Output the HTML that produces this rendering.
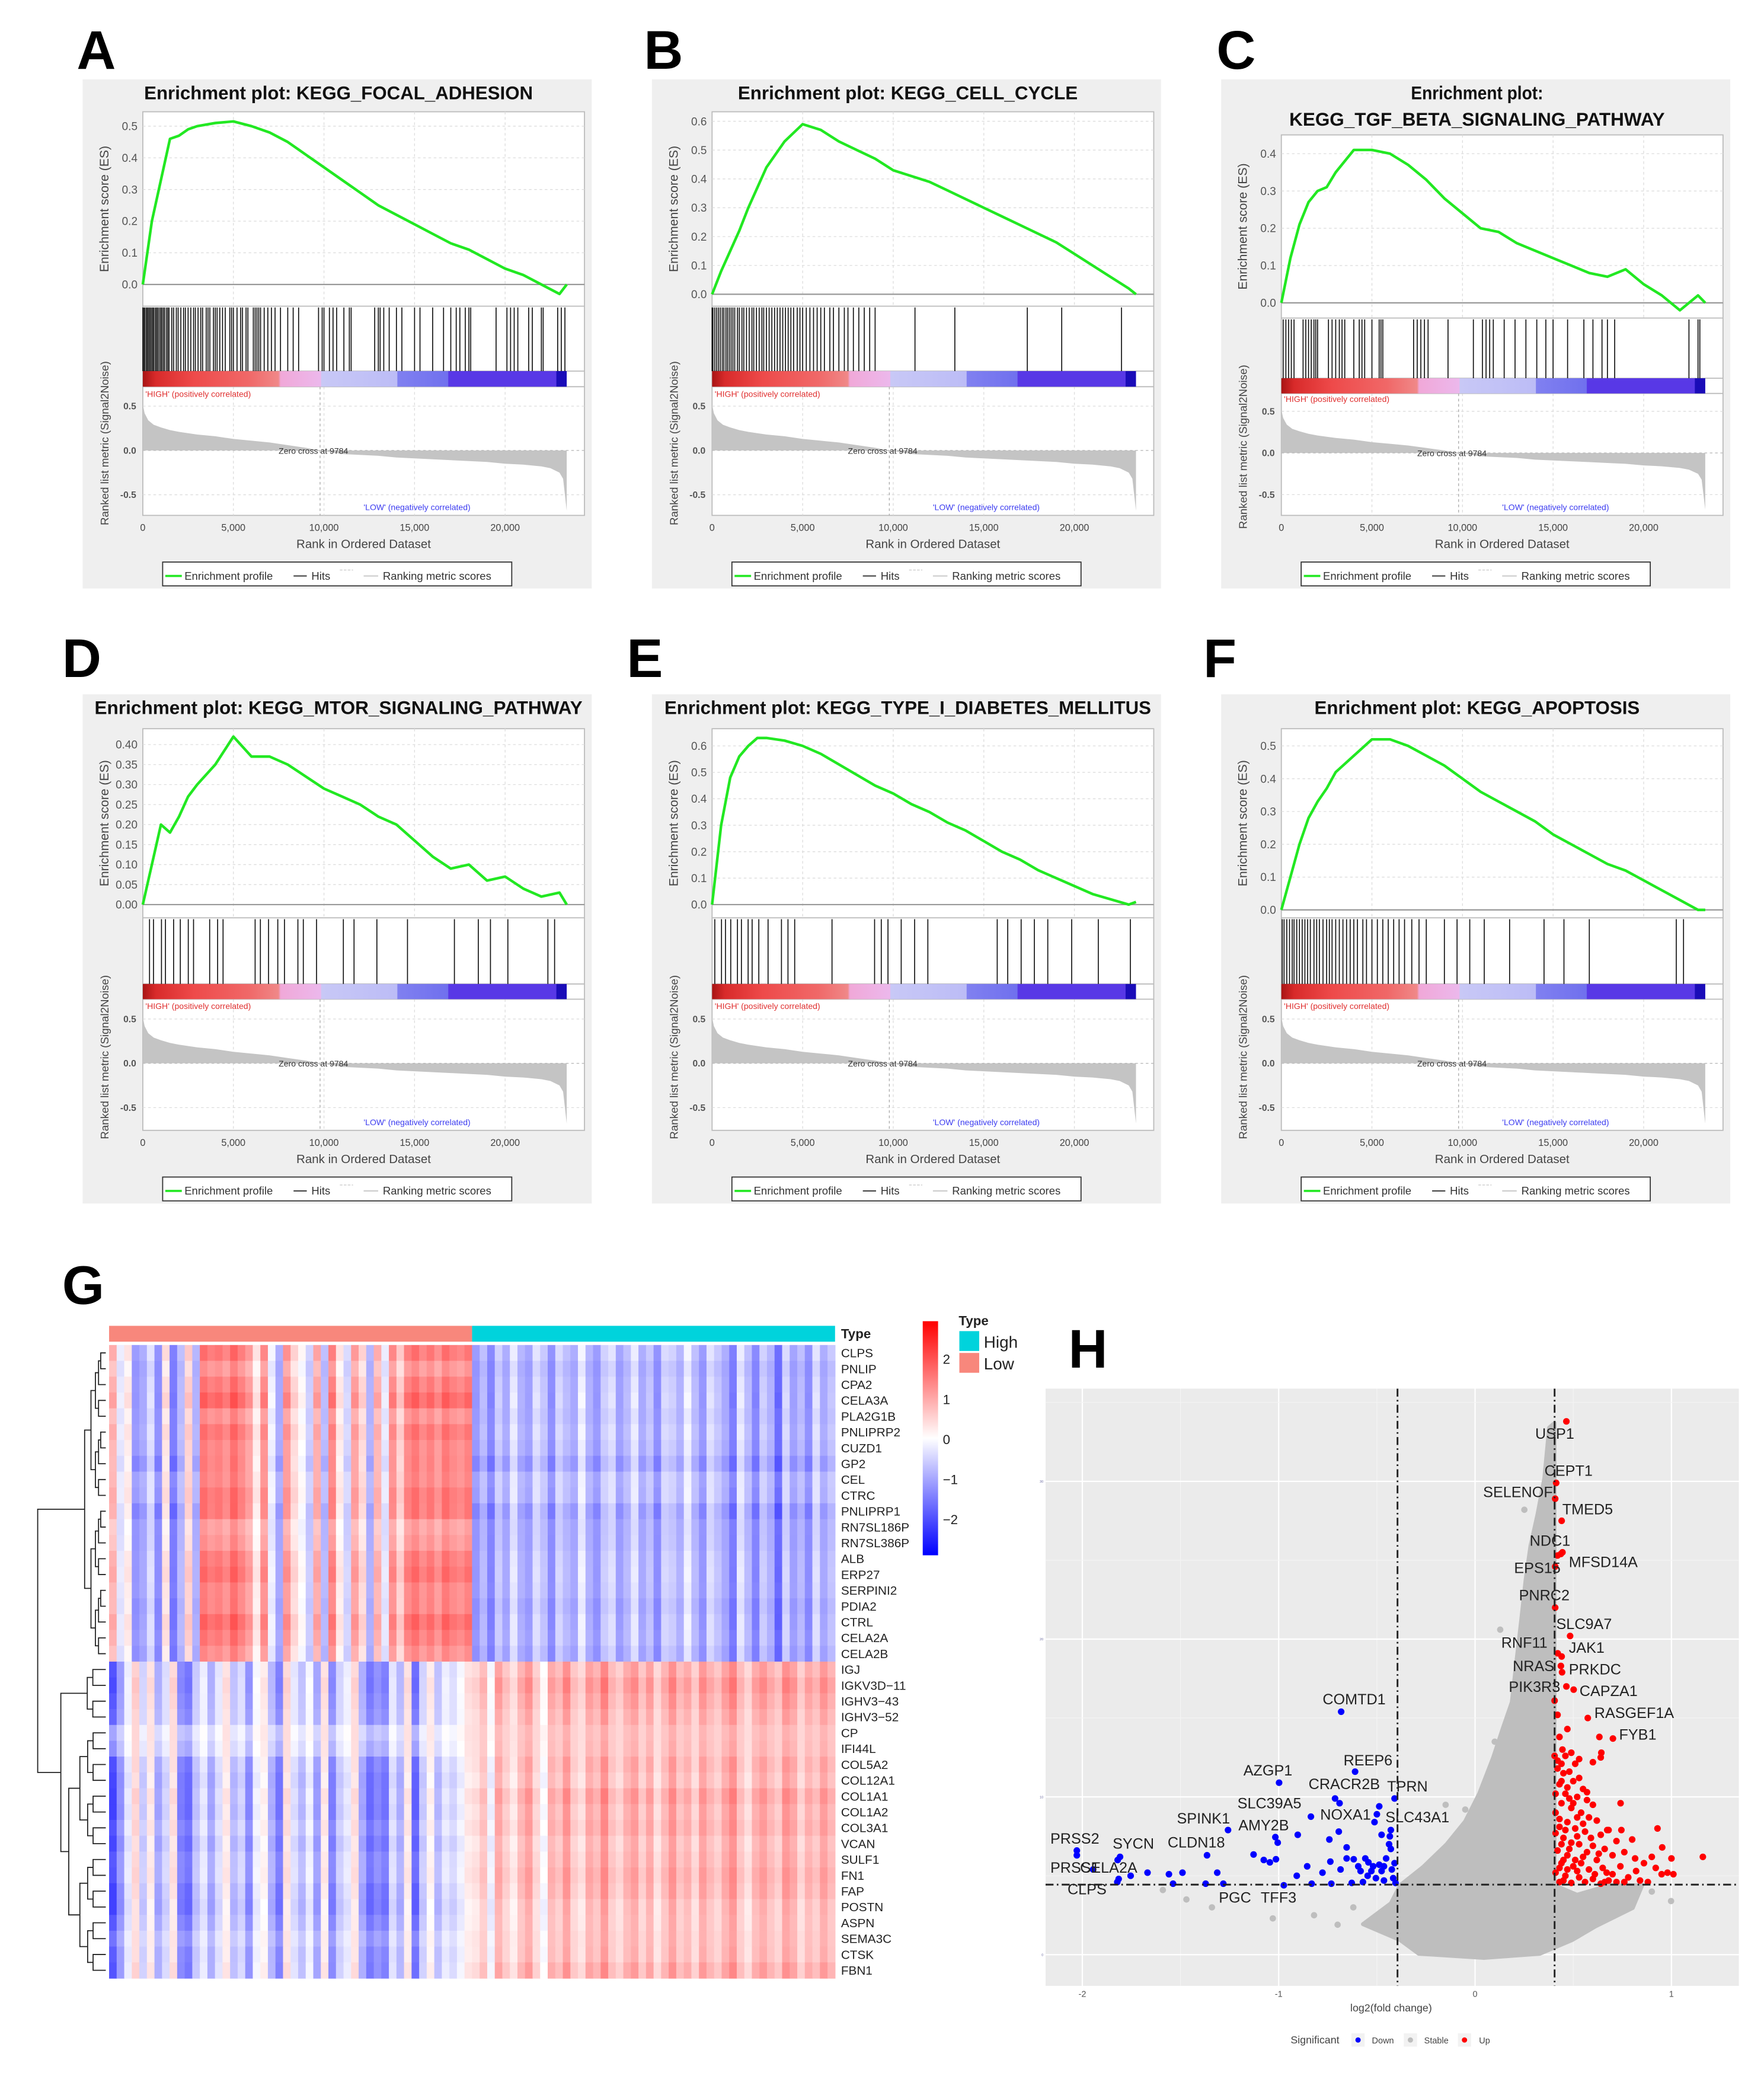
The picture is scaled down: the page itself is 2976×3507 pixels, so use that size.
<!DOCTYPE html>
<html><head><meta charset="utf-8">
<style>
html,body{margin:0;padding:0;background:#fff;}
svg{display:block;font-family:"Liberation Sans",Arial,sans-serif;}
</style></head>
<body>
<svg id="fig" width="2976" height="3507" viewBox="0 0 1334 1572" preserveAspectRatio="none" xmlns="http://www.w3.org/2000/svg"></svg>
<script>
// ---------- GSEA data ----------
const rankGrid = [0,500,1000,1500,2000,2500,3000,4000,5000,6000,7000,8000,9000,10000,11000,12000,13000,14000,15000,16000,17000,18000,19000,20000,21000,22000,23000,23400];
const esA = [0,0.2,0.33,0.46,0.47,0.49,0.5,0.51,0.515,0.5,0.48,0.45,0.41,0.37,0.33,0.29,0.25,0.22,0.19,0.16,0.13,0.11,0.08,0.05,0.03,0.0,-0.03,0.0];
const esB = [0,0.08,0.15,0.22,0.3,0.37,0.44,0.53,0.59,0.57,0.53,0.5,0.47,0.43,0.41,0.39,0.36,0.33,0.3,0.27,0.24,0.21,0.18,0.14,0.1,0.06,0.02,0.0];
const esC = [0,0.12,0.21,0.27,0.3,0.31,0.35,0.41,0.41,0.4,0.37,0.33,0.28,0.24,0.2,0.19,0.16,0.14,0.12,0.1,0.08,0.07,0.09,0.05,0.02,-0.02,0.02,0.0];
const esD = [0,0.1,0.2,0.18,0.22,0.27,0.3,0.35,0.42,0.37,0.37,0.35,0.32,0.29,0.27,0.25,0.22,0.2,0.16,0.12,0.09,0.1,0.06,0.07,0.04,0.02,0.03,0.0];
const esE = [0,0.3,0.48,0.56,0.6,0.63,0.63,0.62,0.6,0.57,0.53,0.49,0.45,0.42,0.38,0.35,0.31,0.28,0.24,0.2,0.17,0.13,0.1,0.07,0.04,0.02,0.0,0.01];
const esF = [0,0.1,0.2,0.28,0.33,0.37,0.42,0.47,0.52,0.52,0.5,0.47,0.44,0.4,0.36,0.33,0.3,0.27,0.23,0.2,0.17,0.14,0.12,0.09,0.06,0.03,0.0,0.0];
const hitsA = [0,60,120,200,260,330,400,470,540,600,680,750,820,900,980,1050,1130,1200,1300,1380,1450,1600,1700,1850,1950,2100,2250,2350,2500,2650,2800,2900,3050,3200,3300,3500,3600,3700,3900,4000,4100,4250,4400,4550,4800,4900,5000,5200,5400,5500,5700,5800,6100,6200,6300,6400,6500,6700,6900,7100,7300,7600,8000,8300,8600,9700,9900,10000,10300,10500,10700,11100,11400,11500,12800,13000,13100,13300,13600,14000,14300,15000,15300,16000,16600,17000,17300,17500,17800,18000,18100,19500,20100,20300,20500,20700,21300,21500,22000,22100,22900,23100,23300];
const hitsB = [0,50,150,250,350,450,560,650,760,850,950,1050,1150,1250,1400,1500,1650,1750,1900,2050,2200,2300,2450,2600,2750,2850,3000,3150,3300,3450,3600,3750,3900,4050,4200,4350,4500,4700,4850,5000,5200,5400,5600,5800,6000,6200,6500,6700,7000,7300,7500,7800,8100,8400,8700,9000,11200,13400,17400,19300,22600];
const hitsC = [100,250,400,550,700,1200,1350,1500,1650,1800,1900,2000,2600,2800,3000,3200,3350,3500,4000,4300,4450,4600,5000,5400,5500,5600,7300,7500,7700,7900,8100,9200,10600,11100,11300,11500,11700,12300,12900,13500,14100,14600,15000,15800,16700,17200,17700,18000,18400,22500,23000,23100];
const hitsD = [370,590,1030,1250,1700,2070,2510,2800,3690,4130,4430,6200,6490,6940,7450,7820,8560,8860,9590,11070,11660,12920,14610,17200,18520,19190,20150,22360,22730];
const hitsE = [150,520,740,1030,1400,1620,1990,2210,2580,3090,3830,4190,4560,6620,8970,9340,9710,10440,11180,11910,15740,16320,17060,17790,18530,19850,21320,23090];
const hitsF = [50,150,300,450,600,700,850,1000,1150,1300,1450,1600,1800,1950,2100,2300,2500,2650,2800,3000,3200,3400,3600,3800,4000,4200,4500,4700,5000,5300,5600,5900,6200,6500,6800,7200,7600,8000,9000,9700,10400,11200,12600,14500,15600,17000,21800,22200];
const metricRanks = [0,100,300,600,1000,1500,2000,3000,4000,5000,6000,7000,8000,9000,9784,11000,12000,13000,14000,15000,16000,17000,18000,19000,20000,21000,22000,22500,23000,23200,23400];
const metricVals = [0.52,0.42,0.34,0.29,0.26,0.23,0.21,0.18,0.16,0.13,0.11,0.09,0.06,0.03,0,-0.04,-0.05,-0.06,-0.08,-0.09,-0.1,-0.11,-0.12,-0.13,-0.15,-0.16,-0.18,-0.2,-0.25,-0.32,-0.68];
const xTicks = [0,5000,10000,15000,20000];
const xTickLabels = ['0','5,000','10,000','15,000','20,000'];
const metricTicks = [0.5,0,-0.5];
const metricTickLabels = ['0.5','0.0','-0.5'];
const esTicksA = [0,0.1,0.2,0.3,0.4,0.5];
const esTicksB = [0,0.1,0.2,0.3,0.4,0.5,0.6];
const esTicksC = [0,0.1,0.2,0.3,0.4];
const esTicksD = [0,0.05,0.1,0.15,0.2,0.25,0.3,0.35,0.4];
const esTicksE = [0,0.1,0.2,0.3,0.4,0.5,0.6];
const esTicksF = [0,0.1,0.2,0.3,0.4,0.5];

// ---------- Heatmap data ----------
const genes = ['CLPS','PNLIP','CPA2','CELA3A','PLA2G1B','PNLIPRP2','CUZD1','GP2','CEL','CTRC','PNLIPRP1','RN7SL186P','RN7SL386P','ALB','ERP27','SERPINI2','PDIA2','CTRL','CELA2A','CELA2B','IGJ','IGKV3D\u221211','IGHV3\u221243','IGHV3\u221252','CP','IFI44L','COL5A2','COL12A1','COL1A1','COL1A2','COL3A1','VCAN','SULF1','FN1','FAP','POSTN','ASPN','SEMA3C','CTSK','FBN1'];
const colTop = [0.8,-0.3,0.2,-1.2,-1.0,-0.4,-1.3,0.3,-1.5,-0.8,0.5,-0.9,1.5,1.3,1.4,1.2,1.6,1.3,1.0,0.2,1.2,-0.2,-1.0,1.1,0.4,0.0,-0.6,0.9,-0.8,1.3,0.2,-0.5,1.0,0.4,-0.9,0.8,-0.3,1.2,0.5,1.3,1.5,1.2,1.4,1.1,1.5,1.3,1.2,1.4,
 -1.2,-0.8,-1.4,-0.6,-1.0,-0.3,-0.9,-1.1,-0.4,-0.7,-1.3,-0.5,-0.8,-1.0,-0.2,-0.9,-1.2,-0.6,-0.4,-1.1,-0.8,-0.3,-1.0,-0.7,-1.3,-0.5,-0.6,-0.9,-0.2,-0.8,-1.2,-0.4,-0.7,-1.0,-1.5,-0.3,-0.8,-1.4,-0.6,-0.9,-1.7,-0.5,-1.1,-0.8,-1.3,-0.4,-1.0,-0.7];
const colBot = [-2.0,-1.2,-0.3,0.4,-0.6,0.2,-1.0,-0.5,0.3,-1.4,-1.6,-0.7,-0.3,-1.0,-0.4,0.2,-0.8,-0.5,-1.3,-0.2,0.1,-0.9,-1.5,0.3,-0.4,-0.8,-0.2,-1.1,0.2,-1.4,-0.6,-0.3,0.3,-1.0,-1.6,-1.3,-1.5,-0.4,-0.9,0.2,-1.7,-0.6,0.1,-0.8,-0.3,-0.5,-0.2,0.2,
 0.3,0.6,-0.2,0.9,0.5,0.2,0.7,1.0,0.4,-0.1,0.8,0.6,1.1,0.5,0.3,0.9,0.7,1.2,0.6,0.4,0.8,1.0,0.5,0.9,0.3,0.7,1.1,0.6,0.8,0.4,1.0,0.7,0.5,0.9,1.2,0.6,0.3,0.8,1.0,0.7,0.5,1.1,0.9,0.4,0.8,0.6,1.0,0.7];
const rowBlock = [0,0,0,0,0,0,0,0,0,0,0,0,0,0,0,0,0,0,0,0,1,1,1,1,1,1,1,1,1,1,1,1,1,1,1,1,1,1,1,1];
const rowScale = [1.0,0.9,1.0,1.1,0.9,1.0,0.95,1.05,0.9,1.0,1.1,0.85,0.9,1.0,1.05,0.95,1.0,1.1,1.0,0.95,1.0,1.1,1.0,0.9,0.6,0.7,1.0,1.0,1.1,1.05,1.0,1.0,0.95,1.0,1.05,1.0,0.9,0.8,0.9,1.0];
const rowShift = [0.1,-0.1,0.05,0.15,-0.05,0.1,0,-0.1,0.05,0.1,-0.05,-0.15,-0.1,0.05,0.1,0,-0.05,0.1,0.05,-0.1,0.1,0.2,0.15,0.1,0.2,0.15,0.05,-0.05,0.1,0,0.1,-0.05,0.05,0.1,0,-0.1,-0.05,0.05,0,0.1];
const keyTicks = [2,1,0,-1,-2];
const keyTickLabels = ['2','1','0','\u22121','\u22122'];

// ---------- Volcano data ----------
const upPts = [[0.465,33.8],[0.413,29.9],[0.408,28.9],[0.441,27.5],[0.437,25.4],[0.42,25.3],[0.445,25.5],[0.408,24.6],[0.408,22.0],[0.484,20.2],[0.421,19.1],[0.441,18.9],[0.437,18.3],[0.443,17.9],[0.465,17.0],[0.502,16.8],[0.574,15.0],[0.702,13.7],[0.633,13.8],[0.405,16.1],[0.42,15.2],[0.47,14.3],[0.43,13.8],[0.445,13.0],[0.405,12.6],[0.643,12.8],[0.60,12.2],[0.64,12.5],
 [0.42,11.8],[0.45,11.5],[0.48,11.6],[0.50,11.0],[0.53,11.2],[0.55,10.5],[0.43,10.8],[0.46,10.2],[0.52,10.0],[0.57,9.8],[0.60,9.5],[0.44,9.6],[0.49,9.3],[0.41,9.0],[0.54,9.0],[0.58,8.7],[0.62,8.5],[0.47,8.4],[0.43,8.1],[0.51,8.0],[0.56,7.8],[0.64,7.6],[0.68,7.9],[0.45,7.4],[0.49,7.1],[0.53,7.0],[0.60,6.9],[0.66,6.7],[0.72,7.2],[0.42,6.6],[0.47,6.3],[0.55,6.2],[0.62,6.0],[0.70,6.3],[0.76,6.5],[0.44,5.8],[0.50,5.6],[0.58,5.4],[0.65,5.5],[0.74,5.6],[0.41,5.2],[0.46,5.0],[0.53,4.9],[0.60,4.8],[0.68,4.7],[0.78,4.9],[0.43,4.6],[0.49,4.55],[0.56,4.6],[0.64,4.5],[0.72,4.6],[0.84,4.7],[0.88,4.6],[0.42,12.3],[0.46,12.6],[0.51,12.1],[0.41,7.7],[0.41,10.2],[0.45,6.0],[0.52,5.3],[0.48,9.9],[0.57,10.3],[0.59,7.4],[0.63,6.4],[0.67,5.2],[0.86,5.8],[0.92,5.5],[0.95,5.1],[0.741,9.6],[0.929,8.0],[0.953,6.8],[1.0,6.1],[1.16,6.2],[0.90,6.2],[0.815,6.1],[0.98,5.2],[0.80,7.3],[0.745,7.9],[0.673,7.9],[1.01,5.1],[0.44,11.0],[0.47,10.6],[0.50,9.6],[0.43,8.6],[0.46,7.9],[0.52,7.5],[0.44,7.0],[0.48,6.7],[0.51,6.0],[0.43,5.5],[0.47,5.4],[0.45,4.7],[0.54,5.8],[0.57,6.5],[0.61,5.1],[0.66,4.6],[0.70,5.1],[0.76,4.6],[0.82,5.3],[0.55,8.3],[0.52,8.7],[0.49,12.8],[0.53,12.4],[0.44,12.1]];
const downPts = [[-0.682,15.4],[-0.611,11.6],[-0.998,10.9],[-0.713,9.9],[-0.69,9.6],[-0.41,9.9],[-0.836,8.75],[-0.5,8.9],[-0.488,9.4],[-0.429,7.9],[-0.476,7.6],[-1.258,7.9],[-1.017,7.45],[-1.005,7.1],[-1.365,6.3],[-2.028,6.6],[-2.028,6.3],[-1.808,6.2],[-1.82,6.0],[-1.945,5.4],[-1.822,4.6],[-1.815,4.8],[-1.282,4.5],[-0.974,4.4],[-1.754,5.0],[-1.668,5.2],[-1.559,5.1],[-1.49,5.2],[-1.538,4.5],[-1.372,4.5],[-1.313,5.2],[-1.128,6.35],[-1.076,6.0],[-1.045,5.85],[-1.014,6.05],[-0.908,5.0],[-0.903,7.6],[-0.855,5.6],[-0.832,4.5],[-0.777,5.2],[-0.742,7.3],[-0.737,5.9],[-0.732,4.5],[-0.694,7.8],[-0.685,5.4],[-0.654,6.8],[-0.654,6.1],[-0.628,4.55],[-0.618,6.05],[-0.595,5.6],[-0.571,4.6],[-0.559,6.1],[-0.543,5.85],[-0.528,5.3],[-0.512,8.4],[-0.505,4.85],[-0.488,5.7],[-0.476,5.3],[-0.464,4.7],[-0.453,6.1],[-0.438,7.0],[-0.429,6.7],[-0.424,5.4],[-0.417,4.85],[-0.41,5.8],[-0.405,4.55],[-0.434,7.5],[-0.519,5.6],[-0.583,5.3],[-0.547,5.0],[-0.464,5.6]];
const stableOutline = [[-0.287,0.06],[-0.382,0.93],[-0.571,1.94],[-0.429,3.25],[-0.382,4.4],[-0.263,5.57],[-0.145,7.0],[-0.05,8.46],[0.021,10.2],[0.092,12.5],[0.14,14.3],[0.187,16.0],[0.211,18.6],[0.235,21.2],[0.258,23.8],[0.282,25.9],[0.318,27.9],[0.353,30.2],[0.377,33.4],[0.405,33.7],[0.405,4.4],[0.519,3.8],[0.685,4.4],[0.851,4.4],[0.803,2.96],[0.614,1.8],[0.495,0.93],[0.329,0.06],[0.045,-0.2]];
const stablePts = [[0.251,28.2],[0.128,20.6],[0.045,10.5],[-0.15,9.5],[-1.59,4.1],[-1.47,3.5],[-1.34,3.0],[-1.03,2.3],[-0.82,2.5],[-0.62,3.0],[0.998,3.4],[0.2,11.2],[0.3,16.5],[0.36,29.5],[0.39,32.5],[-0.05,9.2],[0.1,13.5],[0.7,3.2],[0.9,4.0],[-0.5,2.2],[-0.7,1.9]];
const volcanoLabels = [['USP1',1161,1088],['CEPT1',1168,1116],['SELENOF',1121.6,1132],['TMED5',1181.5,1145],['NDC1',1156.8,1168.7],['MFSD14A',1186.4,1185],['EPS15',1145,1189.5],['PNRC2',1148.7,1210],['SLC9A7',1176.9,1231.7],['RNF11',1135.3,1246],['JAK1',1186.4,1249.7],['NRAS',1144,1263.5],['PRKDC',1186.4,1266],['PIK3R3',1141,1279.4],['CAPZA1',1194.5,1282.5],['RASGEF1A',1205.7,1299],['FYB1',1224.4,1315.4],['COMTD1',1000.2,1288.8],['REEP6',1016,1334.8],['AZGP1',940.3,1342.4],['CRACR2B',989.6,1352.8],['TPRN',1049,1354.5],['SLC39A5',935.8,1367.3],['NOXA1',998.4,1376],['SLC43A1',1047.7,1378],['SPINK1',890,1378.7],['AMY2B',936.5,1384],['CLDN18',883,1397],['PRSS2',794.3,1394],['SYCN',841.4,1397.8],['PRSS1',794.3,1416],['CELA2A',816.8,1416],['CLPS',807.3,1432.4],['PGC',921.7,1438.6],['TFF3',953.4,1438.6]];
const fcTicks = [-2,-1,0,1];
const fcTickLabels = ['-2','-1','0','1'];
const pTicks = [0,10,20,30];
const fcCut = [-0.395,0.405];
const pCut = 4.44;

// ---------- helpers ----------
const NS='http://www.w3.org/2000/svg';
const svg=document.getElementById('fig');
function mk(tag,attrs,parent){const e=document.createElementNS(NS,tag);for(const k in attrs)e.setAttribute(k,attrs[k]);(parent||svg).appendChild(e);return e;}
function tx(str,attrs,parent){const e=mk('text',attrs,parent);e.textContent=str;return e;}

// ---------- panel letters ----------
const letters=[['A',58,52],['B',487,52],['C',920,52],['D',47,512],['E',474,512],['F',910,512],['G',47,986],['H',808,1034]];
letters.forEach(l=>{
  const t=tx(l[0],{x:l[1],y:l[2],'font-size':41,'font-weight':'bold',fill:'#000'});
  
  
});

// ---------- GSEA panels ----------
const panels=[
 {id:'a',ox:0,oy:0,title:['Enrichment plot: KEGG_FOCAL_ADHESION'],tl:[294],es:esA,hits:hitsA,ticks:esTicksA,dec:1,es0:215.1,per:239.4,top:84.5,esBot:231.5,barTop:280.6,barBot:292.4,m0:340.6,mPer:67,lowY:300},
 {id:'b',ox:430.5,oy:0,title:['Enrichment plot: KEGG_CELL_CYCLE'],tl:[257],es:esB,hits:hitsB,ticks:esTicksB,dec:1,es0:222.5,per:218,top:84.5,esBot:231.5,barTop:280.6,barBot:292.4,m0:340.6,mPer:67,lowY:300},
 {id:'c',ox:861,oy:0,title:['Enrichment plot:','KEGG_TGF_BETA_SIGNALING_PATHWAY'],tl:[100,284],es:esC,hits:hitsC,ticks:esTicksC,dec:1,es0:229,per:282,top:102,esBot:240.5,barTop:286,barBot:297.5,m0:342.5,mPer:63,lowY:304},
 {id:'d',ox:0,oy:465,title:['Enrichment plot: KEGG_MTOR_SIGNALING_PATHWAY'],tl:[369],es:esD,hits:hitsD,ticks:esTicksD,dec:2,es0:219,per:302.5,top:86,esBot:229,barTop:279,barBot:290.5,m0:339,mPer:67,lowY:298},
 {id:'e',ox:430.5,oy:465,title:['Enrichment plot: KEGG_TYPE_I_DIABETES_MELLITUS'],tl:[368],es:esE,hits:hitsE,ticks:esTicksE,dec:1,es0:219,per:200,top:86,esBot:229,barTop:279,barBot:290.5,m0:339,mPer:67,lowY:298},
 {id:'f',ox:861,oy:465,title:['Enrichment plot: KEGG_APOPTOSIS'],tl:[246],es:esF,hits:hitsF,ticks:esTicksF,dec:1,es0:223,per:248,top:86,esBot:229,barTop:279,barBot:290.5,m0:339,mPer:67,lowY:298}
];
const defs=mk('defs',{});
const grad=mk('linearGradient',{id:'rankbar',x1:0,x2:1,y1:0,y2:0},defs);
[[0,'#a81414'],[0.03,'#d82a2a'],[0.12,'#ee4a4a'],[0.25,'#f06868'],[0.32,'#f08888'],[0.325,'#f0a8d8'],[0.42,'#ecb8ec'],[0.421,'#c8c8f6'],[0.6,'#bcbcf6'],[0.601,'#8080f0'],[0.72,'#7070ee'],[0.721,'#5838e6'],[0.975,'#5838e6'],[0.976,'#1a0cb8'],[1,'#1a0cb8']].forEach(s=>mk('stop',{offset:s[0],'stop-color':s[1]},grad));
const kgrad=mk('linearGradient',{id:'keygrad',x1:0,x2:0,y1:0,y2:1},defs);
[[0,'#ff0000'],[0.5,'#ffffff'],[1,'#0000ff']].forEach(s=>mk('stop',{offset:s[0],'stop-color':s[1]},kgrad));

const PL=108, PR=442, PBOT=389.7;
function xr(r){return PL+r*0.0137;}
panels.forEach(p=>{
  const g=mk('g',{transform:`translate(${p.ox},${p.oy})`});
  
  
  const bg=mk('rect',{x:62.5,y:60,width:385,height:385,fill:'#efefef'},g);
  
  
  p.title.forEach((t,i)=>{
    const tt=tx(t,{x:256,y:(p.title.length>1?75+i*20:75),'text-anchor':'middle','font-size':14,'font-weight':'bold',fill:'#111',textLength:p.tl[i],lengthAdjust:'spacingAndGlyphs'},g);
    
    
  });
  const plot=mk('rect',{x:PL,y:p.top,width:PR-PL,height:PBOT-p.top,fill:'#fff',stroke:'#bbb','stroke-width':0.8},g);
  
  
  xTicks.slice(1).forEach(r=>{
    mk('line',{x1:xr(r),x2:xr(r),y1:p.top,y2:p.esBot,stroke:'#ddd','stroke-width':0.6,'stroke-dasharray':'2 2'},g);
    mk('line',{x1:xr(r),x2:xr(r),y1:p.barBot,y2:PBOT,stroke:'#ddd','stroke-width':0.6,'stroke-dasharray':'2 2'},g);
  });
  const esY=v=>p.es0-v*p.per;
  p.ticks.forEach(v=>{
    if(v!==0) mk('line',{x1:PL,x2:PR,y1:esY(v),y2:esY(v),stroke:'#ddd','stroke-width':0.6,'stroke-dasharray':'2 2'},g);
    const t=tx(v.toFixed(p.dec),{x:104,y:esY(v)+3,'text-anchor':'end','font-size':8.5,fill:'#555'},g);
    
    
  });
  mk('line',{x1:PL,x2:PR,y1:esY(0),y2:esY(0),stroke:'#999','stroke-width':1},g);
  const mY=v=>p.m0-v*p.mPer;
  metricTicks.forEach((v,i)=>{
    if(v!==0) mk('line',{x1:PL,x2:PR,y1:mY(v),y2:mY(v),stroke:'#ddd','stroke-width':0.6,'stroke-dasharray':'2 2'},g);
    const t=tx(metricTickLabels[i],{x:103,y:mY(v)+2.5,'text-anchor':'end','font-size':7,'font-weight':'bold',fill:'#555'},g);
    
    
  });
  [p.esBot,p.barTop,p.barBot].forEach(y=>mk('line',{x1:PL,x2:PR,y1:y,y2:y,stroke:'#bbb','stroke-width':0.8},g));
  let d=`M${xr(0)},${mY(0)}`;
  metricRanks.forEach((r,i)=>{d+=` L${xr(r).toFixed(2)},${mY(metricVals[i]).toFixed(2)}`;});
  d+=` L${xr(23400)},${mY(0)} Z`;
  const area=mk('path',{d:d,fill:'#c4c4c4',stroke:'none'},g);
  
  
  mk('line',{x1:PL,x2:PR,y1:mY(0),y2:mY(0),stroke:'#bbb','stroke-width':0.6,'stroke-dasharray':'2 2'},g);
  const zc=mk('line',{x1:xr(9784),x2:xr(9784),y1:p.barBot,y2:PBOT,stroke:'#aaa','stroke-width':0.6,'stroke-dasharray':'2 2'},g);
  
  
  const zt=tx('Zero cross at 9784',{x:xr(7500),y:mY(0)+2.5,'font-size':6.3,fill:'#333'},g);
  
  
  const hl=tx("'HIGH' (positively correlated)",{x:110,y:p.lowY,'font-size':6.3,fill:'#e03030'},g);
  
  
  const ll=tx("'LOW' (negatively correlated)",{x:275,y:PBOT-4,'font-size':6.3,fill:'#3c3cf0'},g);
  
  
  const bar=mk('rect',{x:xr(0),y:p.barTop,width:xr(23400)-xr(0),height:p.barBot-p.barTop,fill:'url(#rankbar)'},g);
  
  
  const hg=mk('g',{stroke:'#111','stroke-width':0.75},g);
  
  
  p.hits.forEach(r=>{
    const h=mk('line',{x1:xr(r),x2:xr(r),y1:p.esBot+1,y2:p.barTop},hg);
    
    
  });
  const pts=rankGrid.map((r,i)=>`${xr(r).toFixed(2)},${esY(p.es[i]).toFixed(2)}`).join(' ');
  const esLine=mk('polyline',{points:pts,fill:'none',stroke:'#22e822','stroke-width':2,'stroke-linejoin':'round'},g);
  
  
  xTicks.forEach((r,i)=>{
    const t=tx(xTickLabels[i],{x:xr(r),y:401.5,'text-anchor':'middle','font-size':7.3,fill:'#444'},g);
    
    
  });
  const xt=tx('Rank in Ordered Dataset',{x:275,y:414.5,'text-anchor':'middle','font-size':9.2,fill:'#444'},g);
  
  
  const ey=(p.top+p.esBot)/2;
  const yt=tx('Enrichment score (ES)',{x:0,y:0,transform:`translate(82,${ey}) rotate(-90)`,'text-anchor':'middle','font-size':9.5,fill:'#444'},g);
  
  
  const my=tx('Ranked list metric (Signal2Noise)',{x:0,y:0,transform:`translate(82,${(p.barTop+PBOT)/2}) rotate(-90)`,'text-anchor':'middle','font-size':8.4,fill:'#444'},g);
  
  
  const lg=mk('g',{},g);
  
  
  mk('rect',{x:123,y:425,width:264,height:18,fill:'#fff',stroke:'#333','stroke-width':0.8},lg);
  mk('line',{x1:125,x2:137.5,y1:435.5,y2:435.5,stroke:'#22e822','stroke-width':1.6},lg);
  const l1=tx('Enrichment profile',{x:139.5,y:438.3,'font-size':8.3,fill:'#333'},lg);
  
  
  mk('line',{x1:222,x2:232,y1:435.5,y2:435.5,stroke:'#444','stroke-width':1},lg);
  const l2=tx('Hits',{x:235.5,y:438.3,'font-size':8.3,fill:'#333'},lg);
  
  
  mk('line',{x1:257,x2:267,y1:431,y2:431,stroke:'#ccc','stroke-width':0.6,'stroke-dasharray':'2 1'},lg);
  mk('line',{x1:275,x2:286,y1:435.5,y2:435.5,stroke:'#ccc','stroke-width':1},lg);
  const l3=tx('Ranking metric scores',{x:289.5,y:438.3,'font-size':8.3,fill:'#333'},lg);
  
  
});

// ---------- Heatmap G ----------
const HX0=82.5, HX1=631.5, HY0=1017, HY1=1495.8;
const nCols=colTop.length, cw=(HX1-HX0)/nCols, ch=(HY1-HY0)/genes.length;
function heatColor(v){
  const t=Math.min(Math.abs(v)/2.6,1);
  if(v>=0){const c=Math.round(255-t*240);return `rgb(255,${c},${c})`;}
  const c=Math.round(255-t*235);return `rgb(${c},${c},255)`;
}
const hm=mk('g',{});


genes.forEach((gname,r)=>{
  const src=rowBlock[r]===0?colTop:colBot;
  for(let c=0;c<nCols;c++){
    const v=src[c]*rowScale[r]+rowShift[r];
    const cell=mk('rect',{x:(HX0+c*cw).toFixed(2),y:(HY0+r*ch).toFixed(2),width:(cw+0.3).toFixed(2),height:(ch+0.3).toFixed(2),fill:heatColor(v)},hm);
    
    
  }
  const lab=tx(gname,{x:636,y:HY0+r*ch+ch/2+3.3,'font-size':9.3,fill:'#222'});
  
  
});
const annLow=mk('rect',{x:HX0,y:1002.5,width:(HX1-HX0)/2,height:12,fill:'#f8877c'});


const annHigh=mk('rect',{x:HX0+(HX1-HX0)/2,y:1002.5,width:(HX1-HX0)/2,height:12,fill:'#00d3dc'});


const typeLab=tx('Type',{x:636,y:1012,'font-size':10,'font-weight':'bold',fill:'#222'});


const dg=mk('g',{stroke:'#222','stroke-width':0.8,fill:'none'});


function rowY(r){return HY0+r*ch+ch/2;}
function sub(lo,hi,xNode){
  if(lo===hi) return {y:rowY(lo),x:80};
  const mid=Math.floor((lo+hi)/2);
  const step=(80-xNode)*0.3;
  const a=sub(lo,mid,xNode+step), b=sub(mid+1,hi,xNode+step);
  mk('path',{d:`M${a.x},${a.y} H${xNode} V${b.y} H${b.x}`},dg);
  return {y:(a.y+b.y)/2,x:xNode};
}
const topNode=sub(0,19,64), igNode=sub(20,23,66), restNode=sub(24,39,52);
mk('path',{d:`M${igNode.x},${igNode.y} H46 V${restNode.y} H${restNode.x}`},dg);
const botY=(igNode.y+restNode.y)/2;
mk('path',{d:`M${topNode.x},${topNode.y} H28.5 V${botY} H46`},dg);
const keyRect=mk('rect',{x:697.8,y:999,width:11.6,height:177,fill:'url(#keygrad)'});


keyTicks.forEach((v,i)=>{
  const y=1088.4-v*30.3;
  const t=tx(keyTickLabels[i],{x:713,y:y+3.5,'font-size':10,fill:'#222'});
  
  
});
const tlg=tx('Type',{x:725,y:1002,'font-size':10,'font-weight':'bold',fill:'#222'});


const sqH=mk('rect',{x:725.5,y:1006.5,width:15,height:15,fill:'#00d3dc'});


const tH=tx('High',{x:744,y:1019,'font-size':12.5,fill:'#222'});


const sqL=mk('rect',{x:725.5,y:1023,width:15,height:15,fill:'#f8877c'});


const tL=tx('Low',{x:744,y:1035.5,'font-size':12.5,fill:'#222'});



// ---------- Volcano H ----------
const vx=fc=>1115.5+148.5*fc;
const vy=p=>1478-11.93*p;
const vg=mk('g',{});


const vbg=mk('rect',{x:790.7,y:1050,width:524.3,height:451.6,fill:'#ebebeb'},vg);


fcTicks.forEach(f=>{
  mk('line',{x1:vx(f+0.5),x2:vx(f+0.5),y1:1050,y2:1501.6,stroke:'#f4f4f4','stroke-width':0.5},vg);
  mk('line',{x1:vx(f),x2:vx(f),y1:1050,y2:1501.6,stroke:'#fff','stroke-width':1},vg);
});
pTicks.forEach(p=>{
  mk('line',{x1:790.7,x2:1315,y1:vy(p+5),y2:vy(p+5),stroke:'#f4f4f4','stroke-width':0.5},vg);
  mk('line',{x1:790.7,x2:1315,y1:vy(p),y2:vy(p),stroke:'#fff','stroke-width':1},vg);
  const t=tx(String(p),{x:789,y:vy(p)+1,'text-anchor':'end','font-size':2.5,fill:'#6a6aa0'},vg);
  
  
});
const cloud=mk('polygon',{points:stableOutline.map(q=>`${vx(q[0]).toFixed(1)},${vy(q[1]).toFixed(1)}`).join(' '),fill:'#bebebe',stroke:'#bebebe','stroke-width':3,'stroke-linejoin':'round'},vg);


stablePts.forEach(q=>{
  const c=mk('circle',{cx:vx(q[0]),cy:vy(q[1]),r:2.4,fill:'#bebebe'},vg);
  
  
});
upPts.forEach(q=>{
  const c=mk('circle',{cx:vx(q[0]),cy:vy(q[1]),r:2.5,fill:'#ff0000'},vg);
  
  
});
downPts.forEach(q=>{
  const c=mk('circle',{cx:vx(q[0]),cy:vy(q[1]),r:2.5,fill:'#0000ff'},vg);
  
  
});
fcCut.forEach(f=>{
  const l=mk('line',{x1:vx(f),x2:vx(f),y1:1050,y2:1501.6,stroke:'#222','stroke-width':1.3,'stroke-dasharray':'6 2.5 1.2 2.5'},vg);
  
  
});
const hc=mk('line',{x1:790.7,x2:1315,y1:vy(pCut),y2:vy(pCut),stroke:'#222','stroke-width':1.3,'stroke-dasharray':'6 2.5 1.2 2.5'},vg);


volcanoLabels.forEach(v=>{
  const t=tx(v[0],{x:v[1],y:v[2],'font-size':11.3,fill:'#222'},vg);
  
  
});
fcTicks.forEach((f,i)=>{
  const t=tx(fcTickLabels[i],{x:vx(f),y:1510,'text-anchor':'middle','font-size':6.5,fill:'#555'},vg);
  
  
});
const vxt=tx('log2(fold change)',{x:1052,y:1521,'text-anchor':'middle','font-size':8,fill:'#444'},vg);


const sig=tx('Significant',{x:976,y:1545,'font-size':8,fill:'#444'},vg);


[['Down','#0000ff',1027,1037.5],['Stable','#bebebe',1066.6,1077],['Up','#ff0000',1107.5,1118.5]].forEach(e=>{
  mk('rect',{x:e[2]-5,y:1537.5,width:10,height:10,fill:'#f2f2f2'},vg);
  const c=mk('circle',{cx:e[2],cy:1542.5,r:2,fill:e[1]},vg);
  
  
  const t=tx(e[0],{x:e[3],y:1545,'font-size':6.5,fill:'#444'},vg);
  
  
});
</script>
</body></html>
